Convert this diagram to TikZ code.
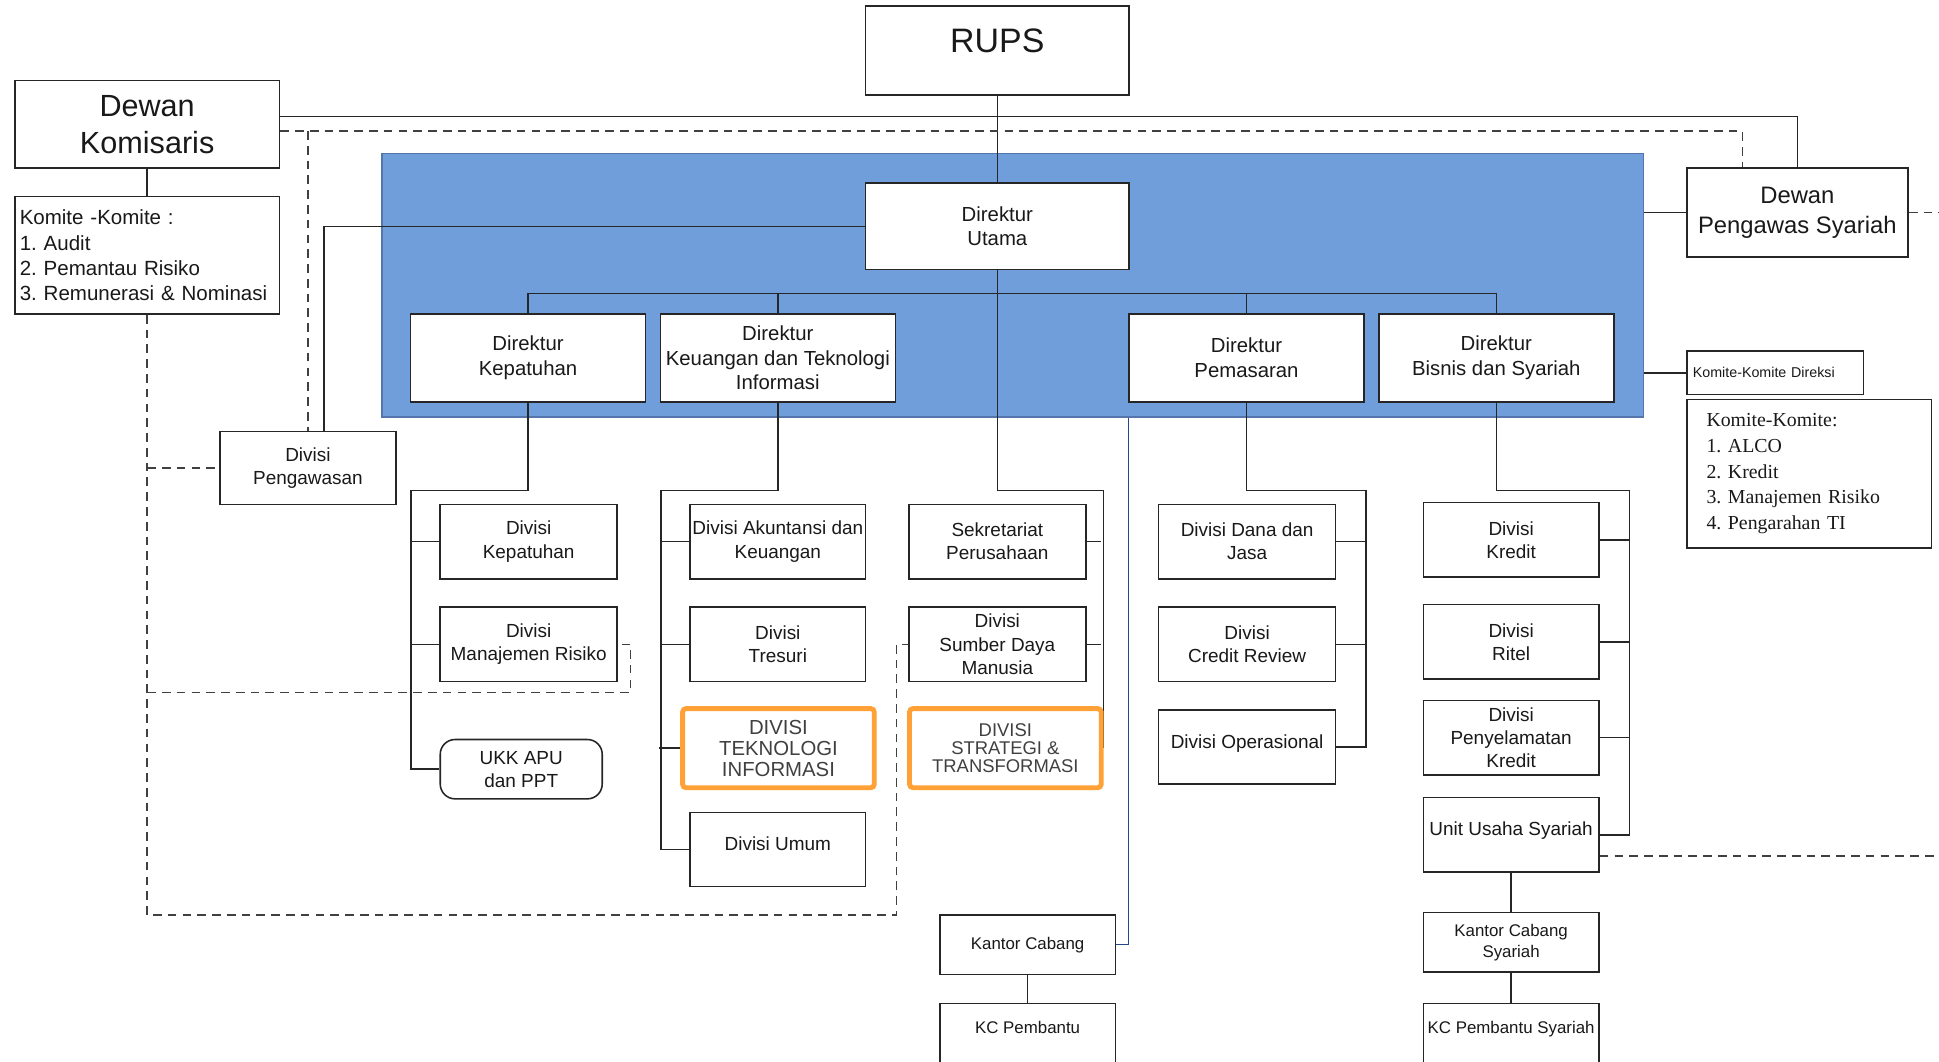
\documentclass[tikz,border=0pt]{standalone}
\usepackage{fontspec}
\setmainfont{Liberation Sans}
\newfontfamily\listSerif{Liberation Serif}
\usetikzlibrary{positioning}
\newcommand{\pxUnit}{0.025cm}
\definecolor{direksiBlue}{RGB}{112,158,218}
\definecolor{direksiEdge}{RGB}{84,118,170}
\definecolor{hiOrange}{RGB}{255,161,54}
\definecolor{cabangLine}{RGB}{40,70,140}
\pgfdeclarelayer{bg}
\pgfdeclarelayer{wires}
\pgfsetlayers{bg,wires,main}
\frenchspacing
\tikzset{
  unit/.style={draw=black!85, line width=0.9pt, fill=white, align=center, inner sep=0pt, text=black!90},
  bigbox/.style={unit, minimum width=214*\pxUnit, minimum height=71*\pxUnit},
  dirbox/.style={unit, minimum width=190*\pxUnit, minimum height=71*\pxUnit, font=\fontsize{11.7}{14.2}\selectfont},
  divbox/.style={unit, minimum width=143*\pxUnit, minimum height=60*\pxUnit, font=\fontsize{10.9}{13.3}\selectfont},
  hibox/.style={unit, draw=hiOrange, line width=2.8pt, rounded corners=2pt, minimum width=155*\pxUnit, minimum height=64*\pxUnit, text=black!75},
  kcbox/.style={unit, minimum width=142*\pxUnit, minimum height=48*\pxUnit, font=\fontsize{9.7}{12.1}\selectfont},
  wire/.style={draw=black!85, line width=0.9pt},
  dashwire/.style={draw=black!75, line width=0.9pt, dash pattern=on 5pt off 3.5pt},
}
\begin{document}
\begin{tikzpicture}[x=\pxUnit, y=-\pxUnit]
\useasboundingbox (0,0) rectangle (1568,858);
\begin{pgfonlayer}{bg}
\node[fill=direksiBlue, draw=direksiEdge, line width=0.9pt, inner sep=0pt, minimum width=1020*\pxUnit, minimum height=213*\pxUnit] (direksi) at (819,230.5) {};
\end{pgfonlayer}

% top level
\node[unit, minimum width=213*\pxUnit, minimum height=72*\pxUnit, text depth=0.4cm, font=\fontsize{19.5}{22}\selectfont] (rups) at (806.5,41) {RUPS};
\node[bigbox, font=\fontsize{17.6}{21.3}\selectfont] (komisaris) at (119,100.5) {Dewan\\Komisaris};
\node[unit, align=left, minimum width=214*\pxUnit, minimum height=95*\pxUnit, text width=5.15cm, inner xsep=4*\pxUnit, font=\fontsize{11.8}{14.6}\selectfont] (komite) at (119,206.5) {Komite -Komite :\\1. Audit\\2. Pemantau Risiko\\3. Remunerasi \& Nominasi};
\node[unit, minimum width=179*\pxUnit, minimum height=72*\pxUnit, font=\fontsize{13.7}{17}\selectfont] (dps) at (1453.5,172) {Dewan\\Pengawas Syariah};
\node[unit, align=left, minimum width=143*\pxUnit, minimum height=35*\pxUnit, text width=3.325cm, inner xsep=5*\pxUnit, font=\fontsize{8.2}{10}\selectfont] (komdir) at (1435.5,301.5) {Komite-Komite Direksi};
\node[unit, align=left, minimum width=198*\pxUnit, minimum height=120*\pxUnit, text width=4.15cm, inner xsep=16*\pxUnit, font=\listSerif\fontsize{11.4}{14.7}\selectfont] (komlist) at (1463,383) {Komite-Komite:\\1. ALCO\\2. Kredit\\3. Manajemen Risiko\\4. Pengarahan TI};
\node[divbox, minimum width=142*\pxUnit, minimum height=59*\pxUnit] (pengawasan) at (249,378.5) {Divisi\\Pengawasan};

% direksi
\node[dirbox, minimum width=213*\pxUnit, minimum height=70*\pxUnit] (dirut) at (806.5,183) {Direktur\\Utama};
\node[dirbox] (dirkep) at (427,289.5) {Direktur\\Kepatuhan};
\node[dirbox] (dirkeu) at (629,289.5) {Direktur\\Keuangan dan Teknologi\\Informasi};
\node[dirbox] (dirpem) at (1008,289.5) {Direktur\\Pemasaran};
\node[dirbox] (dirbis) at (1210,289.5) {Direktur\\Bisnis dan Syariah};

% divisi
\node[divbox] (divkep) at (427.5,438) {Divisi\\Kepatuhan};
\node[divbox] (divmr) at (427.5,521) {Divisi\\Manajemen Risiko};
\node[divbox, minimum width=131*\pxUnit, minimum height=48*\pxUnit, rounded corners=12*\pxUnit] (ukk) at (421.5,622) {UKK APU\\dan PPT};
\node[divbox, minimum width=142*\pxUnit] (akun) at (629,438) {Divisi Akuntansi dan\\Keuangan};
\node[divbox, minimum width=142*\pxUnit] (tresuri) at (629,521) {Divisi\\Tresuri};
\node[hibox, font=\fontsize{11.7}{12.1}\selectfont] (ti) at (629.5,605) {DIVISI\\TEKNOLOGI\\INFORMASI};
\node[divbox, minimum width=142*\pxUnit, text depth=0.25cm] (umum) at (629,687) {Divisi Umum};
\node[divbox] (sekre) at (806.5,438) {Sekretariat\\Perusahaan};
\node[divbox] (sdm) at (806.5,521) {Divisi\\Sumber Daya\\Manusia};
\node[hibox, font=\fontsize{10.6}{10.6}\selectfont] (strat) at (813,605) {DIVISI\\STRATEGI \&\\TRANSFORMASI};
\node[divbox] (dana) at (1008.5,438) {Divisi Dana dan\\Jasa};
\node[divbox] (credit) at (1008.5,521) {Divisi\\Credit Review};
\node[divbox, text depth=0.2cm] (ops) at (1008.5,604) {Divisi Operasional};
\node[divbox, minimum width=142*\pxUnit] (kredit) at (1222,436.5) {Divisi\\Kredit};
\node[divbox, minimum width=142*\pxUnit] (ritel) at (1222,519) {Divisi\\Ritel};
\node[divbox, minimum width=142*\pxUnit] (penyel) at (1222,596.5) {Divisi\\Penyelamatan\\Kredit};
\node[divbox, minimum width=142*\pxUnit, text depth=0.25cm] (uus) at (1222,675) {Unit Usaha Syariah};

% cabang
\node[kcbox] (kc) at (831,764) {Kantor Cabang};
\node[kcbox, anchor=north, text height=0.6cm, text depth=1.15cm] (kcp) at (831,811) {KC Pembantu};
\node[kcbox] (kcs) at (1222,762) {Kantor Cabang\\Syariah};
\node[kcbox, anchor=north, text height=0.6cm, text depth=1.15cm] (kcps) at (1222,811) {KC Pembantu Syariah};

\coordinate (dkTop) at (249,106);
\coordinate (mrCorner) at (510,560);
\coordinate (sdmCorner) at (725,740);

\begin{pgfonlayer}{wires}
\draw[wire] (rups) -- (dirut);
\draw[wire] (komisaris) -- (komite);
\draw[wire] ([yshift=0.16cm]komisaris.east) -| (dps.north);
\draw[dashwire] ([yshift=-0.14cm]komisaris.east) -| ([xshift=-1.11cm]dps.north);
\draw[dashwire] (dkTop) -- (pengawasan.north);
\draw[dashwire] (komite.south) |- (sdmCorner) |- (sdm.west);
\draw[dashwire] (komite.south |- pengawasan.west) -- (pengawasan.west);
\draw[dashwire] (komite.south |- mrCorner) -- (mrCorner) |- (divmr.east);
\draw[wire] (dirut.west) -| ([xshift=0.33cm]pengawasan.north);
% garis direktur
\draw[wire] (dirkep.north) -- ++(0,-16) -| (dirbis.north);
\draw[wire] (dirkeu.north) -- ++(0,-16);
\draw[wire] (dirpem.north) -- ++(0,-16);
% kolom divisi
\draw[wire] (dirkep.south) -- ++(0,71) -| ([xshift=-0.575cm]ukk.west) -- (ukk.west);
\draw[wire] (divkep.west) -- ++(-23,0);
\draw[wire] (divmr.west) -- ++(-23,0);
\draw[wire] (dirkeu.south) -- ++(0,71) -| ([xshift=-0.575cm]umum.west) -- (umum.west);
\draw[wire] (akun.west) -- ++(-23,0);
\draw[wire] (tresuri.west) -- ++(-23,0);
\draw[wire] (ti.west) -- ++(-17,0);
\draw[wire] (dirut.south) -- ++(0,178) -| (strat.east);
\draw[wire] (sekre.east) -- ++(12,0);
\draw[wire] (sdm.east) -- ++(12,0);
\draw[wire] (dirpem.south) -- ++(0,71) -| ([xshift=0.6cm]ops.east) -- (ops.east);
\draw[wire] (dana.east) -- ++(24,0);
\draw[wire] (credit.east) -- ++(24,0);
\draw[wire] (dirbis.south) -- ++(0,71) -| ([xshift=0.6cm]uus.east) -- (uus.east);
\draw[wire] (kredit.east) -- ++(24,0);
\draw[wire] (ritel.east) -- ++(24,0);
\draw[wire] (penyel.east) -- ++(24,0);
% cabang
\draw[wire] (uus) -- (kcs);
\draw[wire] (kcs) -- (kcps);
\draw[wire] (kc) -- (kcp);
\draw[draw=cabangLine, line width=0.7pt] (direksi.south -| dirpem.west) |- (kc.east);
% kanan
\draw[wire] (direksi.east |- dps.west) -- (dps.west);
\draw[wire] (direksi.east |- komdir.west) -- (komdir.west);
\draw[dashwire] (dps.east) -- ++(30,0);
\draw[dashwire] ([yshift=-0.425cm]uus.east) -- ++(280,0);
\end{pgfonlayer}
\end{tikzpicture}
\end{document}
